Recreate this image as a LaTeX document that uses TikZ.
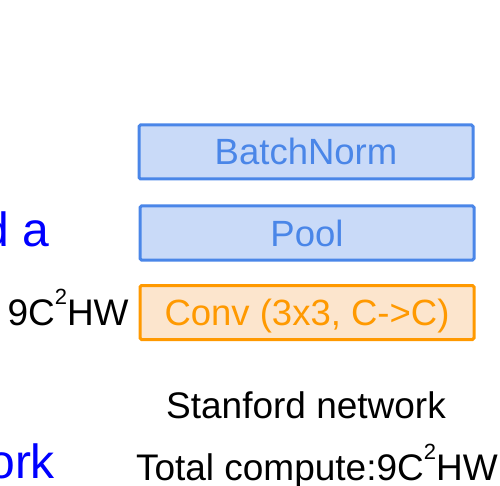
\documentclass[tikz,border=0pt]{standalone}
\usepackage{fontspec}
\setmainfont{Liberation Sans}
\definecolor{bluefill}{HTML}{C9DAF8}
\definecolor{blueline}{HTML}{4A86E8}
\definecolor{orfill}{HTML}{FCE5CD}
\definecolor{orline}{HTML}{FF9900}
\definecolor{slideblue}{HTML}{0000FF}
\newcommand{\supsq}{\raisebox{21pt}{\fontsize{22}{22}\selectfont 2}}
\tikzset{
  layerbox/.style={draw, line width=3pt, rounded corners=1.5pt, inner sep=0pt, outer sep=0pt,
    minimum width=334pt, minimum height=54pt, text height=26pt, text depth=0pt,
    font=\fontsize{36.5}{40}\selectfont},
  bluebox/.style={layerbox, draw=blueline, fill=bluefill, text=blueline},
  orbox/.style={layerbox, draw=orline, fill=orfill, text=orline},
  plain/.style={inner sep=0pt, outer sep=0pt, font=\fontsize{37}{41}\selectfont},
  bluetext/.style={inner sep=0pt, outer sep=0pt, text=slideblue, font=\fontsize{48}{52}\selectfont}
}
\begin{document}
\begin{tikzpicture}[x=1pt,y=-1pt]
\useasboundingbox (0,0) rectangle (500,486);
\node[bluebox] (bn) at (306,152) {BatchNorm};
\node[bluebox] (pool) at (307,233) {Pool};
\node[orbox] (conv) at (307,312.5) {Conv (3x3, C->C)};
\node[plain, anchor=base west] (cost) at (7.5,325) {9C\supsq HW};
\node[plain, anchor=base] (name) at (306,418) {Stanford network};
\node[plain, anchor=base west] (total) at (136,480) {Total compute:9C\supsq HW};
\node[bluetext, anchor=base east] (da) at (49,246) {d a};
\node[bluetext, anchor=base east] (ork) at (55,478) {ork};
\end{tikzpicture}
\end{document}
